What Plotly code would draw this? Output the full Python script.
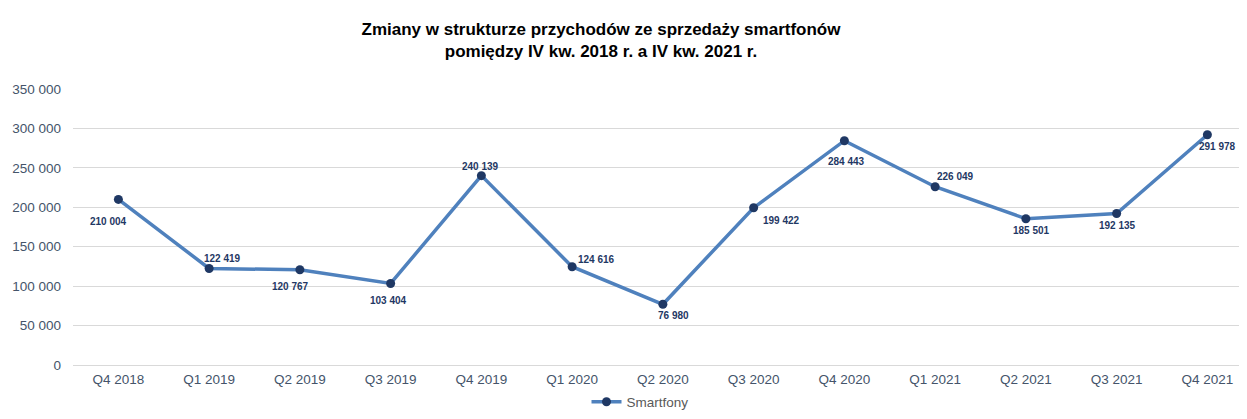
import plotly.graph_objects as go

categories = ["Q4 2018", "Q1 2019", "Q2 2019", "Q3 2019", "Q4 2019", "Q1 2020", "Q2 2020",
              "Q3 2020", "Q4 2020", "Q1 2021", "Q2 2021", "Q3 2021", "Q4 2021"]
values = [210004, 122419, 120767, 103404, 240139, 124616, 76980,
          199422, 284443, 226049, 185501, 192135, 291978]
label_dx = [-10, 13, -9, -2, -1, 24, 11, 28, 2, 20, 6, 1, 10]
label_dy = [22, -10, 17, 17, -9, -7, 11, 13, 21, -10, 12, 12, 12]
y_ticks = [0, 50000, 100000, 150000, 200000, 250000, 300000, 350000]

def fmt(v):
    return f"{v:,}".replace(",", " ")

# the page body adds an 8 px margin; figure is sized so the page does not overflow
W, H = 1231, 403
fig = go.Figure()
fig.add_trace(go.Scatter(
    x=categories, y=values, mode="lines+markers", name="Smartfony",
    line=dict(color="#4F81BD", width=3.5),
    marker=dict(color="#1F3864", size=9),
))

for c, v, dx, dy in zip(categories, values, label_dx, label_dy):
    fig.add_annotation(x=c, y=v, text=fmt(v), showarrow=False,
                       xshift=dx, yshift=-dy,
                       font=dict(family="Arial, Liberation Sans", size=10, color="#1F3864", weight="bold"))

fig.update_layout(
    width=W, height=H,
    margin=dict(l=65, r=0, t=81, b=46, autoexpand=False),
    paper_bgcolor="white", plot_bgcolor="white",
    title=dict(text="<b>Zmiany w strukturze przychodów ze sprzedaży smartfonów<br>pomiędzy IV kw. 2018 r. a IV kw. 2021 r.</b>",
               x=593/W, xanchor="center", xref="container",
               y=1 - 27/H, yanchor="middle", yref="container",
               font=dict(family="Arial, Liberation Sans", size=17, color="#000000")),
    showlegend=True,
    legend=dict(orientation="h", x=(632-65)/(W-65), xanchor="center",
                yref="container", y=9/H, yanchor="middle", bgcolor="rgba(0,0,0,0)",
                font=dict(family="Arial, Liberation Sans", size=13.5, color="#595959"),
                itemwidth=30),
    xaxis=dict(type="category", range=[-0.5, -0.5 + (W-65)/90.75], showgrid=False, showline=False,
               ticks="", tickfont=dict(family="Arial, Liberation Sans", size=13.5, color="#44546A"),
               ticklabelstandoff=4, fixedrange=True, automargin=False),
    yaxis=dict(range=[0, 350000], tickvals=y_ticks, ticktext=[fmt(t) for t in y_ticks],
               showgrid=True, gridcolor="#D9D9D9", gridwidth=1, zeroline=True,
               zerolinecolor="#D9D9D9", zerolinewidth=1, showline=False, ticks="",
               tickfont=dict(family="Arial, Liberation Sans", size=13.5, color="#44546A"),
               ticklabelstandoff=11, automargin=False),
)

fig.write_html("out.html")
